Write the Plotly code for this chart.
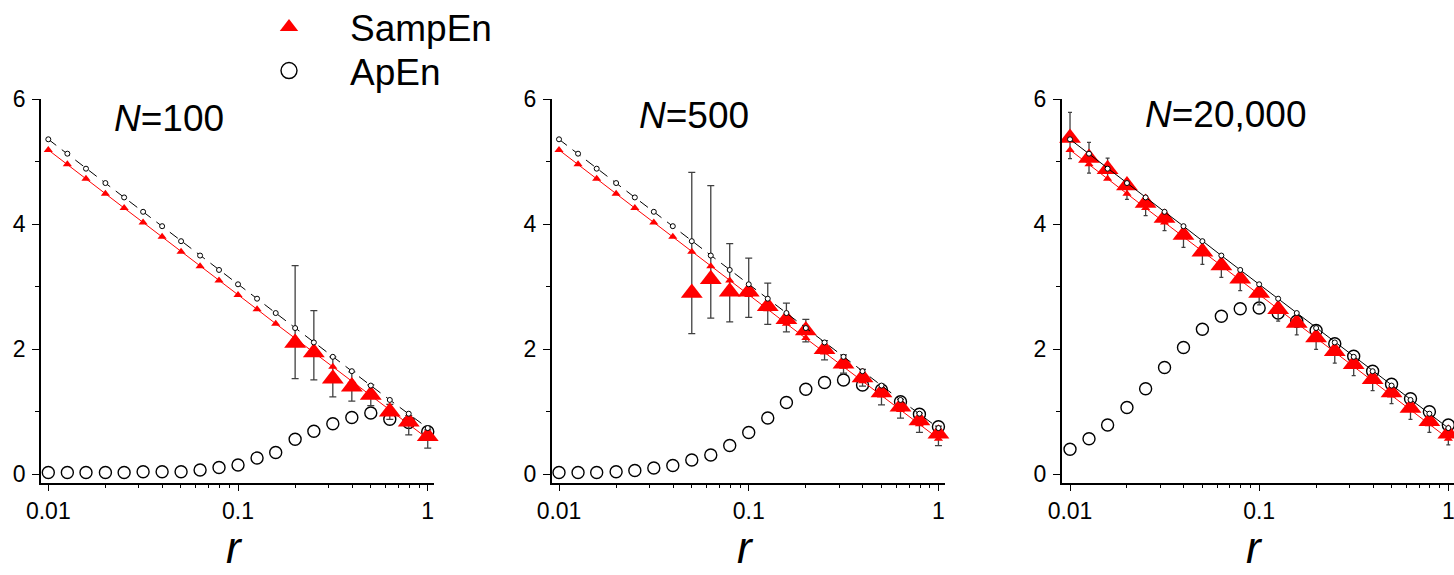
import plotly.graph_objects as go

# ---------------- data ----------------
r = [0.01, 0.0126, 0.0158, 0.02, 0.0251, 0.0316, 0.0398, 0.0501, 0.0631, 0.0794,
     0.1, 0.126, 0.158, 0.2, 0.251, 0.316, 0.398, 0.501, 0.631, 0.794, 1.0]

# theoretical curves (small symbols, same in every panel)
apen_theory = [5.36, 5.13, 4.89, 4.66, 4.43, 4.20, 3.97, 3.73, 3.50, 3.27, 3.04,
               2.81, 2.58, 2.34, 2.11, 1.88, 1.65, 1.42, 1.19, 0.97, 0.74]
sampen_theory = [5.19, 4.96, 4.73, 4.49, 4.26, 4.03, 3.80, 3.56, 3.33, 3.10, 2.87,
                 2.64, 2.41, 2.18, 1.95, 1.72, 1.49, 1.26, 1.03, 0.80, 0.57]

# N = 100
apen_100 = [0.03, 0.03, 0.03, 0.03, 0.03, 0.04, 0.04, 0.04, 0.07, 0.11, 0.15,
            0.26, 0.35, 0.56, 0.69, 0.81, 0.91, 0.98, 0.88, 0.83, 0.68]
sampen_100 = [None, None, None, None, None, None, None, None, None, None, None,
              None, None, 2.10, 1.95, 1.53, 1.40, 1.27, 1.00, 0.84, 0.61]
sampen_100_up = [None, None, None, None, None, None, None, None, None, None, None,
                 None, None, 1.24, 0.67, 0.35, 0.24, 0.16, 0.12, 0.10, 0.10]
sampen_100_down = [None, None, None, None, None, None, None, None, None, None, None,
                   None, None, 0.57, 0.44, 0.29, 0.23, 0.17, 0.12, 0.21, 0.19]

# N = 500
apen_500 = [0.03, 0.03, 0.03, 0.04, 0.06, 0.10, 0.14, 0.23, 0.31, 0.46, 0.67,
            0.90, 1.15, 1.36, 1.47, 1.51, 1.43, 1.35, 1.16, 0.96, 0.76]
sampen_500 = [None, None, None, None, None, None, None, 2.90, 3.12, 2.92, 2.92,
              2.69, 2.48, 2.30, 2.00, 1.77, 1.55, 1.31, 1.08, 0.86, 0.65]
sampen_500_up = [None, None, None, None, None, None, None, 1.93, 1.50, 0.77, 0.54,
                 0.37, 0.26, 0.18, 0.14, 0.14, 0.13, 0.13, 0.12, 0.12, 0.12]
sampen_500_down = [None, None, None, None, None, None, None, 0.65, 0.62, 0.48, 0.41,
                   0.29, 0.20, 0.18, 0.17, 0.15, 0.14, 0.20, 0.18, 0.19, 0.19]

# N = 20,000
apen_20000 = [0.40, 0.57, 0.79, 1.07, 1.37, 1.71, 2.03, 2.32, 2.53, 2.65, 2.66,
              2.58, 2.45, 2.30, 2.09, 1.89, 1.65, 1.44, 1.21, 1.00, 0.79]
sampen_20000 = [5.38, 5.06, 4.88, 4.62, 4.34, 4.10, 3.83, 3.56, 3.34, 3.13, 2.90,
                2.64, 2.42, 2.19, 1.97, 1.76, 1.52, 1.31, 1.06, 0.85, 0.65]
sampen_20000_up = [0.41, 0.25, 0.18, 0.10, 0.10, 0.10, 0.10, 0.10, 0.10, 0.10, 0.10,
                   0.10, 0.10, 0.10, 0.10, 0.10, 0.10, 0.10, 0.10, 0.10, 0.10]
sampen_20000_down = [0.33, 0.24, 0.16, 0.22, 0.20, 0.20, 0.20, 0.20, 0.19, 0.19, 0.19,
                     0.19, 0.19, 0.19, 0.19, 0.18, 0.18, 0.18, 0.18, 0.18, 0.18]

panel_titles = ["<i>N</i>=100", "<i>N</i>=500", "<i>N</i>=20,000"]
x_title = "<i>r</i>"
x_tick_vals = [0.01, 0.1, 1]
x_tick_text = ["0.01", "0.1", "1"]
x_minor_vals = [0.02, 0.03, 0.04, 0.05, 0.06, 0.07, 0.08, 0.09,
                0.2, 0.3, 0.4, 0.5, 0.6, 0.7, 0.8, 0.9]
y_tick_vals = [0, 2, 4, 6]
y_minor_vals = [1, 3, 5]

# ---------------- figure ----------------
W, H = 1454, 575
FONT = "Liberation Sans, Arial, sans-serif"

panels = [
    dict(apen=apen_100, samp=sampen_100, up=sampen_100_up, down=sampen_100_down,
         dash="10px,7px", px=(41, 434), xr=(-2.0385, 0.033), capw=3.5),
    dict(apen=apen_500, samp=sampen_500, up=sampen_500_up, down=sampen_500_down,
         dash="10px,7px", px=(551.7, 944.7), xr=(-2.0385, 0.033), capw=3.5),
    dict(apen=apen_20000, samp=sampen_20000, up=sampen_20000_up, down=sampen_20000_down,
         dash="solid", px=(1061.7, 1454), xr=(-2.044, 0.030), capw=2),
]

fig = go.Figure()

for i, p in enumerate(panels):
    xa = "x" if i == 0 else f"x{i+1}"
    ya = "y" if i == 0 else f"y{i+1}"
    # ApEn data (large open circles)
    fig.add_trace(go.Scatter(
        x=r, y=p["apen"], mode="markers", xaxis=xa, yaxis=ya, showlegend=False,
        cliponaxis=False,
        marker=dict(symbol="circle-open", size=12, color="black", line=dict(width=1.4))))
    # SampEn data (large red triangles with error bars)
    fig.add_trace(go.Scatter(
        x=r, y=p["samp"], mode="markers", xaxis=xa, yaxis=ya, showlegend=False,
        cliponaxis=False,
        marker=dict(symbol="triangle-up", size=19, color="red"),
        error_y=dict(type="data", symmetric=False, array=p["up"], arrayminus=p["down"],
                     color="#404040", thickness=1.3, width=p["capw"])))
    # theoretical SampEn (red line + small triangles)
    fig.add_trace(go.Scatter(
        x=r, y=sampen_theory, mode="lines+markers", xaxis=xa, yaxis=ya, showlegend=False,
        cliponaxis=False,
        line=dict(color="red", width=1),
        marker=dict(symbol="triangle-up", size=8, color="red")))
    # theoretical ApEn (black line + small circles)
    fig.add_trace(go.Scatter(
        x=r, y=apen_theory, mode="lines+markers", xaxis=xa, yaxis=ya, showlegend=False,
        cliponaxis=False,
        line=dict(color="black", width=1, dash=p["dash"]),
        marker=dict(symbol="circle", size=5, color="white", line=dict(color="black", width=1))))

# legend entries
fig.add_trace(go.Scatter(x=[None], y=[None], mode="markers", name="SampEn", legend="legend",
                         marker=dict(symbol="triangle-up", size=16, color="red")))
fig.add_trace(go.Scatter(x=[None], y=[None], mode="markers", name="ApEn", legend="legend2",
                         marker=dict(symbol="circle-open", size=16, color="black",
                                     line=dict(width=1.4))))

y_bot_px, y_top_px = 482.7, 99.3
y_dom = [1 - y_bot_px / H, 1 - y_top_px / H]
y_range = [-0.134, 6]

layout = dict(
    width=W, height=H, margin=dict(l=0, r=0, t=0, b=0, autoexpand=False),
    paper_bgcolor="white", plot_bgcolor="white",
    font=dict(family=FONT, color="black", size=23),
    showlegend=True,
)

for i, p in enumerate(panels):
    sx = "" if i == 0 else str(i + 1)
    layout[f"xaxis{sx}"] = dict(
        type="log", domain=[p["px"][0] / W, min(p["px"][1] / W, 1.0)], range=list(p["xr"]),
        anchor=f"y{sx}", showgrid=False, zeroline=False, automargin=False,
        showline=True, linecolor="black", linewidth=1.5,
        ticks="outside", ticklen=7, tickwidth=1.3, tickcolor="black",
        tickvals=x_tick_vals, ticktext=x_tick_text, ticklabeloverflow="allow",
        tickfont=dict(size=23, family=FONT, color="black"),
        minor=dict(ticks="outside", ticklen=4, tickwidth=1.1, tickcolor="black",
                   tickvals=x_minor_vals, showgrid=False),
    )
    layout[f"yaxis{sx}"] = dict(
        domain=y_dom, range=y_range, anchor=f"x{sx}",
        showgrid=False, zeroline=False, automargin=False,
        showline=True, linecolor="black", linewidth=1.5,
        ticks="outside", ticklen=7, tickwidth=1.3, tickcolor="black",
        tickvals=y_tick_vals, ticktext=[str(v) for v in y_tick_vals],
        tickfont=dict(size=23, family=FONT, color="black"),
        ticklabelstandoff=2,
        minor=dict(ticks="outside", ticklen=4, tickwidth=1.1, tickcolor="black",
                   tickvals=y_minor_vals, showgrid=False),
    )

legend_common = dict(xanchor="left", yanchor="top", itemwidth=112,
                     bgcolor="rgba(0,0,0,0)", borderwidth=0,
                     font=dict(size=37, family=FONT, color="black"))
layout["legend"] = dict(x=228 / W, y=1 + 3.5 / H, **legend_common)
layout["legend2"] = dict(x=228 / W, y=1 - 40 / H, **legend_common)

title_pos = [(169, 118.4), (694, 115.8), (1226, 115)]
annotations = [
    dict(text=t, x=cx / W, y=1 - cy / H, xref="paper", yref="paper",
         xanchor="center", yanchor="middle", showarrow=False,
         font=dict(size=37, family=FONT, color="black"))
    for t, (cx, cy) in zip(panel_titles, title_pos)
]
# axis titles ("r") below each x axis, kept fully inside the page
for p in panels:
    cx = (p["px"][0] + p["px"][1]) / 2 - 3
    annotations.append(dict(text=x_title, x=cx / W, y=0, xref="paper", yref="paper",
                            xanchor="center", yanchor="bottom", yshift=1, showarrow=False,
                            font=dict(size=44, family=FONT, color="black")))
layout["annotations"] = annotations

fig.update_layout(**layout)
fig.write_html(
    "out.html",
    post_script="document.body.style.margin='0';document.body.style.overflow='hidden';",
)
